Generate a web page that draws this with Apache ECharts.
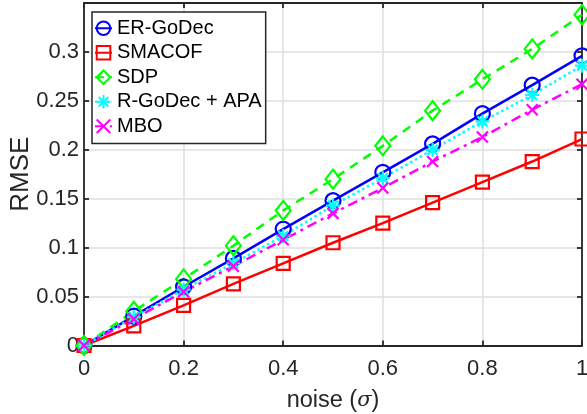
<!DOCTYPE html>
<html>
<head>
<meta charset="utf-8">
<script src="https://cdn.jsdelivr.net/npm/echarts@6/dist/echarts.min.js"></script>
<style>html,body{margin:0;padding:0;background:#fff}#c{width:587px;height:414px}</style>
</head>
<body>
<div id="c"></div>
<script>
const noise = [0, 0.1, 0.2, 0.3, 0.4, 0.5, 0.6, 0.7, 0.8, 0.9, 1];
const erGoDec = [0, 0.030, 0.060, 0.089, 0.119, 0.148, 0.177, 0.206, 0.237, 0.266, 0.296];
const smacof = [0, 0.020, 0.041, 0.063, 0.084, 0.105, 0.125, 0.146, 0.167, 0.188, 0.211];
const sdp = [0, 0.035, 0.068, 0.102, 0.138, 0.170, 0.204, 0.240, 0.272, 0.303, 0.338];
const rGoDecApa = [0, 0.029, 0.057, 0.084, 0.112, 0.143, 0.171, 0.200, 0.229, 0.256, 0.286];
const mbo = [0, 0.027, 0.055, 0.081, 0.108, 0.135, 0.161, 0.188, 0.213, 0.241, 0.267];
const seriesNames = ['ER-GoDec', 'SMACOF', 'SDP', 'R-GoDec + APA', 'MBO'];

const FONT = 'Liberation Sans, Arial, Helvetica, sans-serif';
const AX = '#262626';
const GRID = '#dfdfdf';

function pairs(ys) { return noise.map((x, i) => [x, ys[i]]); }

const asterisk = 'path://M0,-10L0,10M-10,0L10,0M-7.07,-7.07L7.07,7.07M-7.07,7.07L7.07,-7.07';
const cross = 'path://M-10,-10L10,10M-10,10L10,-10';

function mk(name, ys, color, lineType, symbol, size) {
  return {
    name: name, type: 'line', data: pairs(ys), clip: false,
    symbol: symbol, symbolSize: size, showAllSymbol: true,
    lineStyle: { color: color, width: 2.5, type: lineType },
    itemStyle: { color: 'rgba(0,0,0,0)', borderColor: color, borderWidth: 2.2 },
    emphasis: { disabled: true },
    animation: false
  };
}

const chart = echarts.init(document.getElementById('c'), null, { renderer: 'canvas' });
const axisCommon = {
  type: 'value', min: 0,
  axisLine: { show: true, onZero: false, lineStyle: { color: AX, width: 1.8 } },
  axisTick: { show: true, inside: true, length: 5, lineStyle: { color: AX, width: 1.8 } },
  splitLine: { show: false }
};
chart.setOption({
  animation: false,
  backgroundColor: '#fff',
  grid: { left: 84, right: 5, top: 3, bottom: 68.5, containLabel: false, outerBoundsMode: 'none' },
  xAxis: [
    Object.assign({}, axisCommon, {
      max: 1, interval: 0.2, position: 'bottom',
      name: 'noise ({i|σ})', nameLocation: 'middle', nameGap: 43, nameMoveOverlap: false,
      nameTextStyle: { fontFamily: FONT, fontSize: 23.5, color: AX,
        rich: { i: { fontFamily: 'DejaVu Serif, serif', fontStyle: 'italic', fontSize: 21, color: AX } } },
      axisLabel: { fontFamily: FONT, fontSize: 22, color: AX, margin: 12 },
      splitLine: { show: true, lineStyle: { color: GRID, width: 1.5 } }
    }),
    Object.assign({}, axisCommon, {
      max: 1, interval: 0.2, position: 'top', axisLabel: { show: false }
    })
  ],
  yAxis: [
    Object.assign({}, axisCommon, {
      max: 0.35, interval: 0.05, position: 'left',
      name: 'RMSE', nameLocation: 'middle', nameGap: 50, nameMoveOverlap: false,
      nameTextStyle: { fontFamily: FONT, fontSize: 26, color: AX },
      axisLabel: { fontFamily: FONT, fontSize: 22, color: AX, margin: 5, showMaxLabel: false,
        formatter: function (v) { return v > 0.34 ? '' : String(+v.toFixed(2)); } },
      splitLine: { show: true, lineStyle: { color: GRID, width: 1.5 } }
    }),
    Object.assign({}, axisCommon, {
      max: 0.35, interval: 0.05, position: 'right', axisLabel: { show: false }
    })
  ],
  legend: {
    orient: 'vertical', left: 92, top: 12,
    data: seriesNames,
    backgroundColor: '#fff', borderColor: AX, borderWidth: 1.5, borderRadius: 0,
    padding: [4, 4, 5, 2], itemGap: 0, itemWidth: 17, itemHeight: 17,
    textStyle: { fontFamily: FONT, fontSize: 20, color: '#000', lineHeight: 24.5 },
    selectedMode: false
  },
  series: [
    mk(seriesNames[0], erGoDec, '#0000ff', 'solid', 'circle', 15),
    mk(seriesNames[1], smacof, '#ff0000', 'solid', 'rect', 13),
    mk(seriesNames[2], sdp, '#00ff00', [9, 7], 'diamond', [15, 19]),
    mk(seriesNames[3], rGoDecApa, '#00ffff', [2.5, 3], asterisk, 14),
    mk(seriesNames[4], mbo, '#ff00ff', [10, 5, 3, 5], cross, 11)
  ]
});
</script>
</body>
</html>
